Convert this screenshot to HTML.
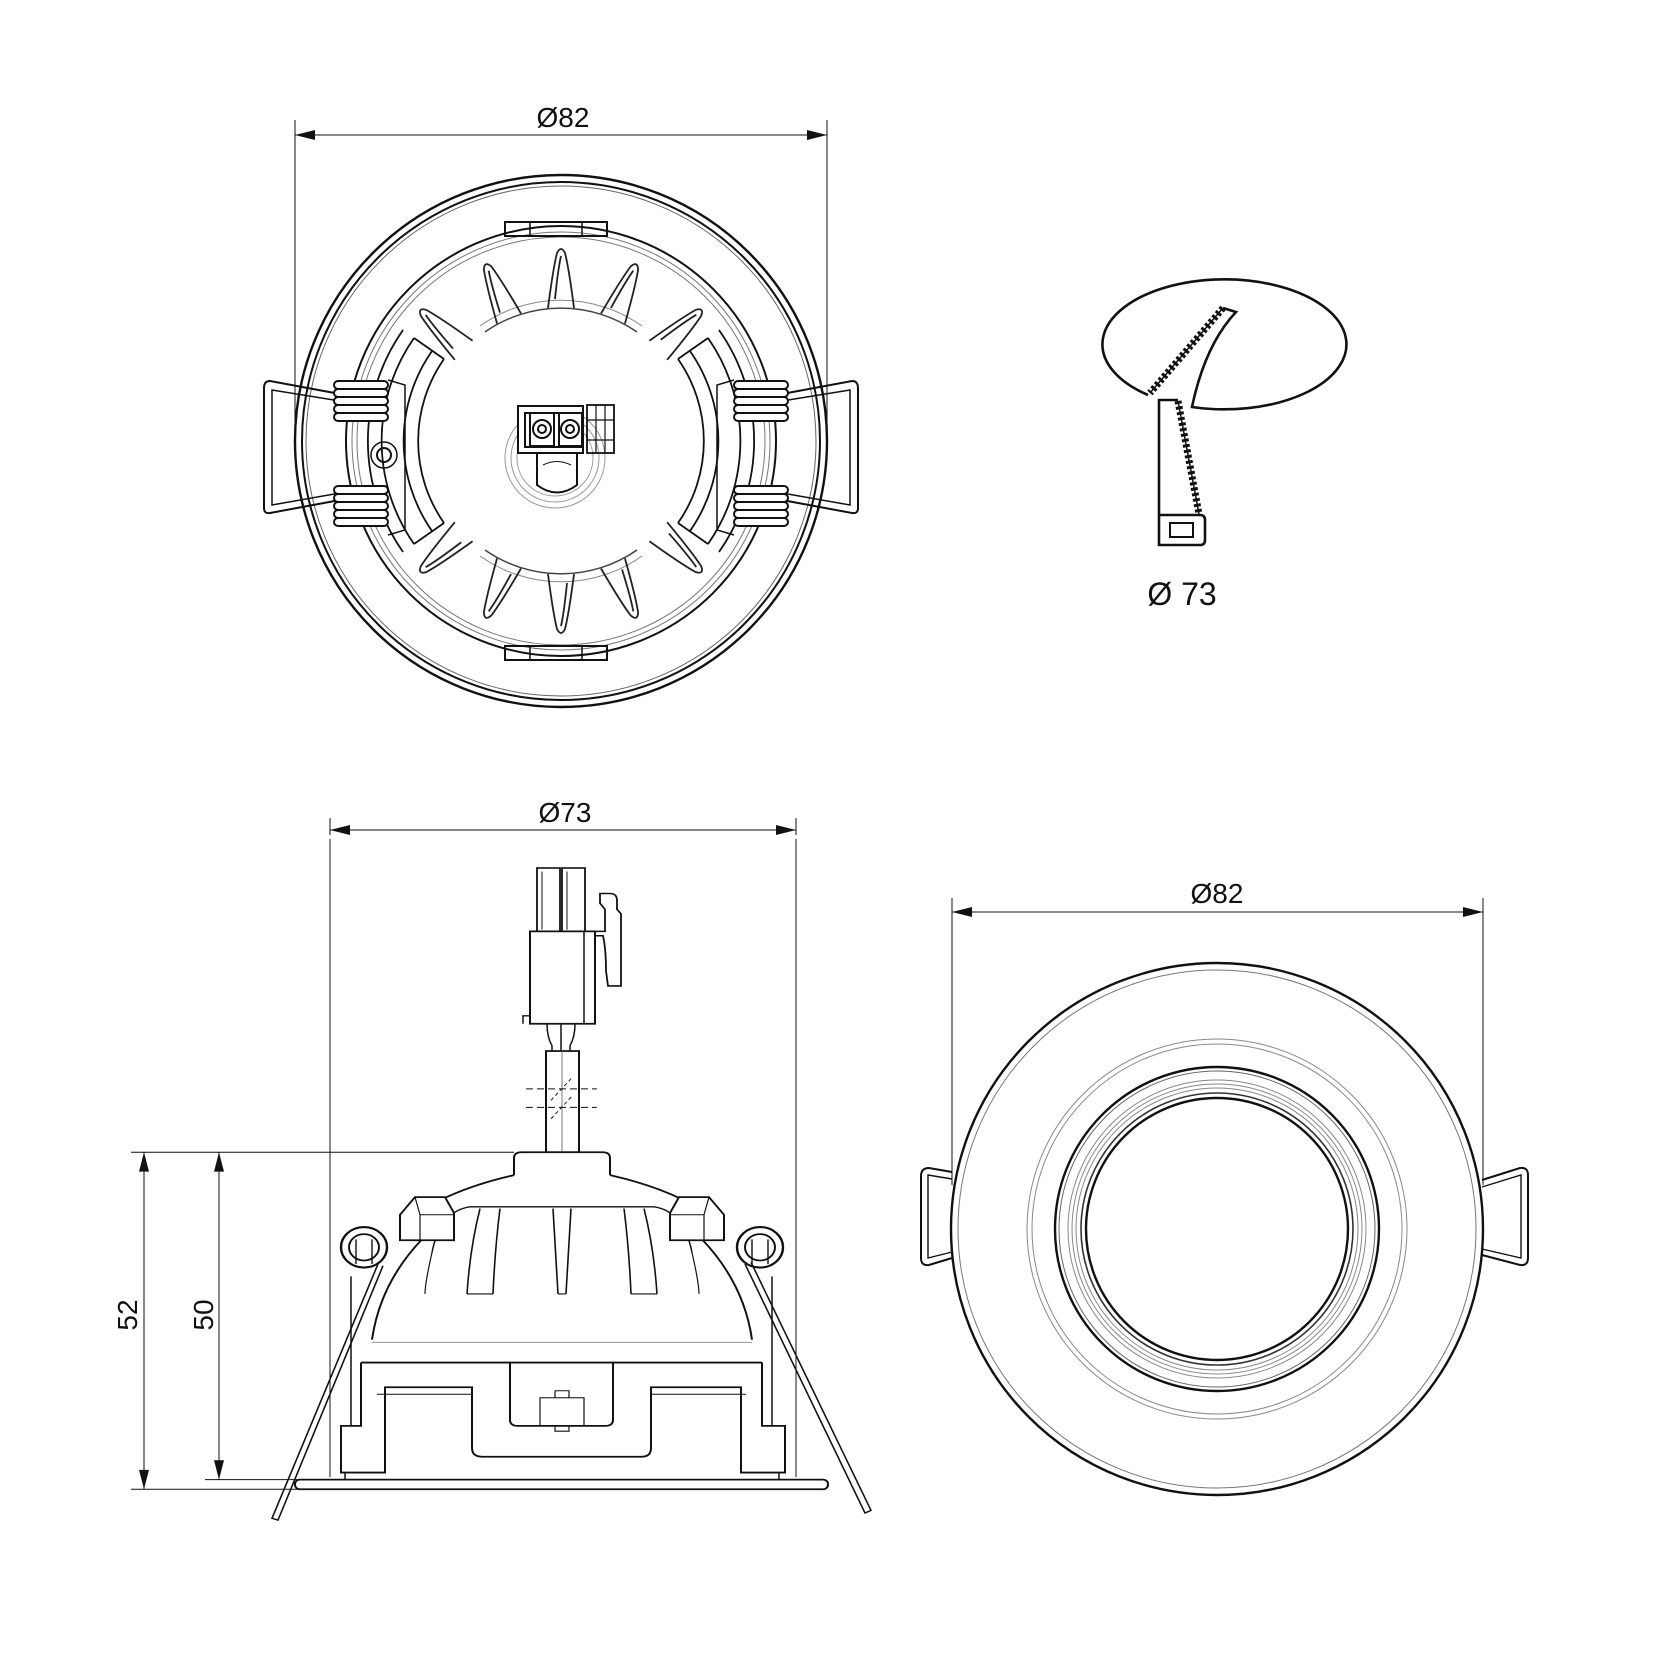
<!DOCTYPE html>
<html><head><meta charset="utf-8"><style>html,body{margin:0;padding:0;background:#fff}svg{display:block}</style></head>
<body>
<svg xmlns="http://www.w3.org/2000/svg" width="1654" height="1654" viewBox="0 0 1654 1654" font-family="'Liberation Sans', sans-serif">
<defs>
<path id="fin" d="M -13,-133 Q -8,-172 -4,-188 Q 0,-196 4,-188 Q 8,-172 13,-133 M -6,-142 Q -3,-172 0,-185" fill="none" stroke="#222" stroke-width="1.8"/>
</defs>
<rect width="1654" height="1654" fill="#fff"/>

<!-- ===== TOP-LEFT VIEW ===== -->
<g fill="none" stroke="#111">
 <line x1="295" y1="120" x2="295" y2="440" stroke-width="1"/>
 <line x1="827" y1="120" x2="827" y2="440" stroke-width="1"/>
 <line x1="295" y1="135" x2="827" y2="135" stroke-width="1"/>
 <path d="M295,135 l20,-5 v10 z M827,135 l-20,-5 v10 z" fill="#111" stroke="none"/>
 <circle cx="561" cy="441" r="266" stroke-width="2.4"/>
 <circle cx="561" cy="441" r="259" stroke-width="2"/>
 <circle cx="561" cy="441" r="255" stroke-width="1" stroke="#666"/>
 <circle cx="561" cy="441" r="215" stroke-width="2"/>
 <circle cx="561" cy="441" r="209" stroke-width="1" stroke="#777"/>
 <circle cx="561" cy="441" r="204" stroke-width="1" stroke="#777"/>
 <rect x="505" y="222" width="102" height="14" stroke-width="2"/>
 <rect x="530" y="222" width="52" height="14" stroke-width="1.5"/>
 <rect x="505" y="646" width="102" height="14" stroke-width="2"/>
 <rect x="530" y="646" width="52" height="14" stroke-width="1.5"/>
 <path d="M485,332 A133 133 0 0 1 637,332 M485,550 A133 133 0 0 0 637,550" stroke-width="1.5" stroke="#444"/>
 <path d="M480,326 A140 140 0 0 1 642,326 M480,556 A140 140 0 0 0 642,556" stroke-width="1" stroke="#888"/>
 <path d="M444,359 A143 143 0 0 0 444,523 M432,351 A157 157 0 0 0 432,531 M414,338 A180 180 0 0 0 414,544 M403,330 A193 193 0 0 0 403,552" stroke-width="1.8"/>
 <path d="M678,359 A143 143 0 0 1 678,523 M690,351 A157 157 0 0 1 690,531 M708,338 A180 180 0 0 1 708,544 M719,330 A193 193 0 0 1 719,552" stroke-width="1.8"/>
 <path d="M444,359 L414,338 M444,523 L414,544 M678,359 L708,338 M678,523 L708,544" stroke-width="1.8"/>
</g>
<g>
 <use href="#fin" transform="translate(561,441) rotate(0)"/>
 <use href="#fin" transform="translate(561,441) rotate(23)"/>
 <use href="#fin" transform="translate(561,441) rotate(-23)"/>
 <use href="#fin" transform="translate(561,441) rotate(47)"/>
 <use href="#fin" transform="translate(561,441) rotate(-47)"/>
 <use href="#fin" transform="translate(561,441) rotate(180)"/>
 <use href="#fin" transform="translate(561,441) rotate(157)"/>
 <use href="#fin" transform="translate(561,441) rotate(203)"/>
 <use href="#fin" transform="translate(561,441) rotate(133)"/>
 <use href="#fin" transform="translate(561,441) rotate(227)"/>
</g>
<g fill="none" stroke="#111" stroke-width="2">
 <path d="M340,394 L270,381 Q264,381 264,388 L264,508 Q264,514 270,513 L340,500"/>
 <path d="M340,401 L272,390 L272,505 L340,493" stroke-width="1.5"/>
 <path d="M782,394 L852,381 Q858,381 858,388 L858,508 Q858,514 852,513 L782,500"/>
 <path d="M782,401 L850,390 L850,505 L782,493" stroke-width="1.5"/>
 <g fill="#fff">
  <rect x="334" y="381" width="54" height="8" rx="4"/><rect x="334" y="389" width="54" height="8" rx="4"/><rect x="334" y="397" width="54" height="8" rx="4"/><rect x="334" y="405" width="54" height="8" rx="4"/><rect x="334" y="413" width="54" height="8" rx="4"/>
  <rect x="334" y="486" width="54" height="8" rx="4"/><rect x="334" y="494" width="54" height="8" rx="4"/><rect x="334" y="502" width="54" height="8" rx="4"/><rect x="334" y="510" width="54" height="8" rx="4"/><rect x="334" y="518" width="54" height="8" rx="4"/>
  <rect x="734" y="381" width="54" height="8" rx="4"/><rect x="734" y="389" width="54" height="8" rx="4"/><rect x="734" y="397" width="54" height="8" rx="4"/><rect x="734" y="405" width="54" height="8" rx="4"/><rect x="734" y="413" width="54" height="8" rx="4"/>
  <rect x="734" y="486" width="54" height="8" rx="4"/><rect x="734" y="494" width="54" height="8" rx="4"/><rect x="734" y="502" width="54" height="8" rx="4"/><rect x="734" y="510" width="54" height="8" rx="4"/><rect x="734" y="518" width="54" height="8" rx="4"/>
 </g>
 <path d="M388,380 L405,385 L405,530 L388,535 M734,380 L717,385 L717,530 L734,535" stroke-width="1.5"/>
 <circle cx="384" cy="455" r="13" stroke-width="1.5"/><circle cx="384" cy="455" r="7"/>
 <circle cx="555" cy="458" r="50" stroke="#999" stroke-width="1"/>
 <circle cx="555" cy="458" r="44" stroke="#999" stroke-width="1"/>
 <circle cx="555" cy="458" r="38" stroke="#999" stroke-width="1"/>
 <path d="M537,453 L537,485 Q557,500 577,485 L577,453" fill="#fff"/>
 <path d="M543,465 Q557,458 571,465" stroke-width="1"/>
 <rect x="518" y="406" width="65" height="47" fill="#fff"/>
 <rect x="525" y="413" width="58" height="34"/>
 <rect x="530" y="413" width="24" height="33"/><rect x="559" y="413" width="23" height="33"/>
 <circle cx="542" cy="429" r="9"/><circle cx="542" cy="429" r="4"/>
 <circle cx="570" cy="429" r="9"/><circle cx="570" cy="429" r="4"/>
 <rect x="587" y="405" width="27" height="48" stroke-width="1.8"/>
 <path d="M596,405 V453 M605,405 V453 M587,420 H614 M587,440 H614" stroke-width="1.2"/>
</g>
<text x="563" y="127" font-size="28" text-anchor="middle" fill="#111">Ø82</text>

<!-- ===== TOP-RIGHT ===== -->
<g fill="none" stroke="#111" stroke-width="2.6">
 <path d="M1148,395 A122 65 0 1 1 1192,407 Q1205,345 1236,312 L1223,308"/>
 <path d="M1223,308 L1150,393" stroke-width="7" stroke-dasharray="3 2.5"/>
 <path d="M1223,308 L1150,393" stroke-width="1.5"/>
 <path d="M1178,400 L1159,400 L1159,545 L1200,545 Q1205,545 1205,540 L1205,520 Q1205,515 1200,515 L1159,515"/>
 <rect x="1170" y="523" width="23" height="14" stroke-width="2"/>
 <path d="M1178,401 L1199,514" stroke-width="7" stroke-dasharray="3 2.5"/>
 <path d="M1178,401 L1199,514" stroke-width="1.5"/>
</g>
<text x="1182" y="605" font-size="32" text-anchor="middle" fill="#111">Ø 73</text>

<!-- ===== SIDE VIEW ===== -->
<g fill="none" stroke="#111" stroke-width="1">
 <line x1="330" y1="818" x2="330" y2="835"/>
 <line x1="796" y1="818" x2="796" y2="835"/>
 <line x1="330" y1="830" x2="796" y2="830"/>
 <path d="M330,830 l20,-5 v10 z M796,830 l-20,-5 v10 z" fill="#111" stroke="none"/>
</g>
<text transform="translate(137,1315) rotate(-90)" font-size="28" text-anchor="middle" fill="#111">52</text>
<text transform="translate(213,1315) rotate(-90)" font-size="28" text-anchor="middle" fill="#111">50</text>
<text x="565" y="822" font-size="28" text-anchor="middle" fill="#111">Ø73</text>
<g transform="translate(0,868) scale(1,0.88) translate(0,-868)">
<g fill="none" stroke="#111" stroke-width="1">
 <line x1="330" y1="835" x2="330" y2="1560" vector-effect="non-scaling-stroke"/>
 <line x1="796" y1="835" x2="796" y2="1560" vector-effect="non-scaling-stroke"/>
 <line x1="131" y1="1191" x2="514" y2="1191" vector-effect="non-scaling-stroke"/>
 <line x1="131" y1="1574" x2="300" y2="1574" vector-effect="non-scaling-stroke"/>
 <line x1="205" y1="1563" x2="300" y2="1563" vector-effect="non-scaling-stroke"/>
 <line x1="144" y1="1191" x2="144" y2="1574" vector-effect="non-scaling-stroke"/>
 <line x1="219" y1="1191" x2="219" y2="1563" vector-effect="non-scaling-stroke"/>
 <path d="M144,1191 l-5,22 h10 z M144,1574 l-5,-22 h10 z M219,1191 l-5,22 h10 z M219,1563 l-5,-22 h10 z" fill="#111" stroke="none"/>
</g>
<g fill="none" stroke="#111" stroke-width="2">
 <rect x="537" y="868" width="23" height="72" stroke-width="1.8"/>
 <rect x="562" y="868" width="23" height="72" stroke-width="1.8"/>
 <path d="M542,872 V938 M567,872 V938" stroke-width="1"/>
 <rect x="530" y="940" width="65" height="105" fill="#fff"/>
 <path d="M584,940 V1045 M523,1045 V1036 H530" stroke-width="1.5"/>
 <path d="M595,945 L603,945 Q606,960 606,985 L608,1002 L621,1002 L621,920 L617,915 L617,905 Q617,897 610,897 L600,897 L600,908 L605,915 L605,940 L595,940" stroke-width="1.8"/>
 <path d="M547,1045 Q547,1060 552,1070 L552,1076 M575,1045 Q575,1060 570,1070 L570,1076 M561,1045 L561,1076" stroke-width="1.5"/>
 <rect x="546" y="1076" width="33" height="115" fill="#fff"/>
 <line x1="562" y1="1076" x2="562" y2="1191" stroke-width="1" stroke="#777"/>
 <path d="M526,1119 H597 M526,1140 H597" stroke-width="1.2" stroke-dasharray="7 4"/>
 <path d="M551,1132 L573,1105 M551,1153 L573,1126" stroke-width="1" stroke-dasharray="4 3"/>
 <path d="M514,1217 V1198 Q514,1191 521,1191 H603 Q610,1191 610,1198 V1217" fill="#fff"/>
 <path d="M514,1217 Q444,1235 406,1270 M610,1217 Q680,1235 718,1270"/>
 <path d="M422,1290 Q380,1340 372,1404 M702,1290 Q744,1340 752,1404"/>
 <path d="M432,1305 Q440,1258 470,1253 L654,1253 Q684,1258 692,1305" stroke-width="1.5"/>
 <path d="M480,1255 Q470,1300 467,1352 M500,1255 Q495,1300 493,1352 M553,1255 L558,1352 M571,1255 L566,1352 M624,1255 Q629,1300 631,1352 M644,1255 Q654,1300 657,1352" stroke-width="1.6"/>
 <path d="M432,1305 Q425,1340 425,1352 M692,1305 Q699,1340 699,1352" stroke-width="1.2"/>
 <path d="M467,1352 h26 M558,1352 h8 M631,1352 h26" stroke-width="1.2"/>
 <path d="M400,1262 L415,1242 H445 L454,1260 V1291 H400 Z" fill="#fff"/>
 <path d="M415,1242 L420,1262 H454 M420,1262 V1291" stroke-width="1.2"/>
 <path d="M724,1262 L709,1242 H679 L670,1260 V1291 H724 Z" fill="#fff"/>
 <path d="M709,1242 L704,1262 H670 M704,1262 V1291" stroke-width="1.2"/>
 <line x1="372" y1="1407" x2="752" y2="1407" stroke="#888" stroke-width="1"/>
 <path d="M361,1430 H762"/>
 <path d="M361,1430 L361,1502 L341,1502 L341,1555 L385,1555 L385,1458 L472,1458 L472,1527 Q472,1537 482,1537 L642,1537 Q651,1537 651,1527 L651,1458 L741,1458 L741,1555 L785,1555 L785,1502 L762,1502 L762,1430"/>
 <path d="M377,1466 H472 M651,1466 H746" stroke-width="1.2"/>
 <path d="M510,1430 V1495 Q510,1502 518,1502 H605 Q613,1502 613,1495 V1430"/>
 <rect x="540" y="1470" width="44" height="32" stroke-width="1.2"/>
 <path d="M555,1462 h14 v8 M555,1462 v8 M555,1502 v6 h14 v-6" stroke-width="1.2"/>
 <path d="M351,1332 V1502 M772,1332 V1502" stroke-width="1.5"/>
 <path d="M345,1555 V1563 M779,1555 V1563" stroke-width="1.5"/>
 <rect x="295" y="1563" width="533" height="11" rx="5" fill="#fff"/>
 <circle cx="364" cy="1299" r="23" stroke-width="2.4"/>
 <circle cx="364" cy="1299" r="15" stroke-width="2"/>
 <circle cx="760" cy="1299" r="23" stroke-width="2.4"/>
 <circle cx="760" cy="1299" r="15" stroke-width="2"/>
 <path d="M378,1318 L272,1607 L278,1609 L383,1320 M745,1318 L865,1601 L871,1598 L751,1316" stroke-width="1.6"/>
 <path d="M356,1290 V1318 M372,1290 V1318 M752,1290 V1318 M768,1290 V1318" stroke-width="1.4"/>
</g>
</g>

<!-- ===== BOTTOM-RIGHT VIEW ===== -->
<g fill="none" stroke="#111" stroke-width="1">
 <line x1="952" y1="898" x2="952" y2="1185"/>
 <line x1="1483" y1="898" x2="1483" y2="1185"/>
 <line x1="952" y1="912" x2="1483" y2="912"/>
 <path d="M952,912 l20,-5 v10 z M1483,912 l-20,-5 v10 z" fill="#111" stroke="none"/>
</g>
<text x="1217" y="903" font-size="28" text-anchor="middle" fill="#111">Ø82</text>
<g fill="none" stroke="#111">
 <path d="M952,1172 L929,1168 Q921,1168 921,1176 L921,1258 Q921,1266 929,1265 L952,1258" stroke-width="2"/>
 <path d="M952,1179 L928,1175 L928,1258 L952,1252" stroke-width="1.4"/>
 <path d="M1482,1180 L1520,1168 Q1528,1167 1528,1175 L1528,1258 Q1528,1266 1520,1265 L1482,1255" stroke-width="2"/>
 <path d="M1482,1187 L1521,1175 L1521,1258 L1482,1249" stroke-width="1.4"/>
 <circle cx="1217" cy="1229" r="266" stroke-width="2.4" fill="#fff"/>
 <circle cx="1217" cy="1229" r="259" stroke-width="1" stroke="#777"/>
 <circle cx="1217" cy="1229" r="190" stroke-width="1" stroke="#888"/>
 <circle cx="1217" cy="1229" r="185" stroke-width="1" stroke="#888"/>
 <circle cx="1217" cy="1229" r="162" stroke-width="2.4"/>
 <circle cx="1217" cy="1229" r="158" stroke-width="1" stroke="#666"/>
 <circle cx="1217" cy="1229" r="149" stroke-width="1" stroke="#888"/>
 <circle cx="1217" cy="1229" r="145" stroke-width="1" stroke="#888"/>
 <circle cx="1217" cy="1229" r="141" stroke-width="1" stroke="#888"/>
 <circle cx="1217" cy="1229" r="136" stroke-width="1.6" stroke="#333"/>
 <circle cx="1217" cy="1229" r="131" stroke-width="2.4"/>
</g>
</svg>
</body></html>
